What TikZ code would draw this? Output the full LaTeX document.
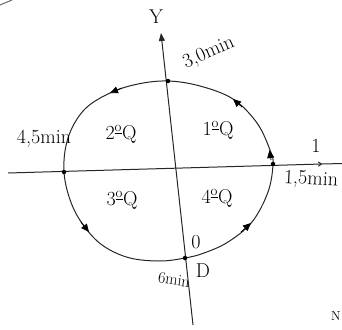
\documentclass[tikz,border=0pt]{standalone}
\usetikzlibrary{arrows.meta}
\newcommand\quadlbl[1]{#1\textsuperscript{\underline{o}}Q}
\begin{document}
\begin{tikzpicture}[x=1pt,y=-1pt,
  ln/.style={line width=1pt, black!85},
  dotsty/.style={circle,fill=black,inner sep=0pt,minimum size=4.5pt},
  lbl/.style={font=\fontsize{20}{22}\selectfont, inner sep=0pt},
  tipa/.style={-{Triangle[length=8pt,width=7pt]}, line width=0.8pt},
]
\useasboundingbox (0,0) rectangle (342,329);
% axes
\coordinate (ybot) at (193,325);
\coordinate (ytop) at (161,33);
\coordinate (xl) at (8,173);
\coordinate (xa) at (322,164);
\coordinate (xr) at (343,163.5);
\draw[ln,-{Triangle[length=8pt,width=6pt]}] (ybot) -- (ytop);
\draw[ln,-{To[length=4pt,width=5pt]}] (xl) -- (xa);
\draw[ln] (xa) -- (xr);
% curve
\draw[ln] plot[smooth cycle, tension=0.6] coordinates {
 (168,81) (200,86) (233,99) (257,123) (270,150) (273,164) (268,192)
 (252,222) (228,242) (204,253) (185,258) (160,261) (130,258) (105,247)
 (87,230) (72,205) (64,172) (68,138) (84,110) (110,93) (138,84)};
% dots
\node[dotsty] (top) at (168,81) {};
\node[dotsty] (right) at (273,164) {};
\node[dotsty] (left) at (64,172) {};
\node[dotsty] (bottom) at (185,258) {};
% arrowheads along curve
\coordinate (a1f) at (241,232); \coordinate (a1t) at (251,223);
\coordinate (a2f) at (271,160); \coordinate (a2t) at (269.5,150);
\coordinate (a3f) at (242,107); \coordinate (a3t) at (233,99);
\coordinate (a4f) at (122,88);  \coordinate (a4t) at (110,93);
\coordinate (a5f) at (81,222);  \coordinate (a5t) at (89,232);
\draw[tipa] (a1f) -- (a1t);
\draw[tipa] (a2f) -- (a2t);
\draw[tipa] (a3f) -- (a3t);
\draw[tipa] (a4f) -- (a4t);
\draw[tipa] (a5f) -- (a5t);
% labels
\node[lbl] (ylab) at (156,17) {Y};
\node[lbl] (xlab) at (316,146) {1};
\node[lbl, rotate=24] (t3) at (209,53) {3,0min};
\node[lbl] (t45) at (44,139) {4,5min};
\node[lbl, rotate=-3] (t15) at (311,180) {1,5min};
\node[lbl, rotate=-8, font=\fontsize{16}{18}\selectfont] (t6) at (174,280) {6min};
\node[lbl] (zero) at (196,242) {0};
\node[lbl] (dlab) at (203,271) {D};
\node[lbl] (q1) at (218,130) {\quadlbl{1}};
\node[lbl] (q2) at (121,134) {\quadlbl{2}};
\node[lbl] (q3) at (122,200) {\quadlbl{3}};
\node[lbl] (q4) at (217,198) {\quadlbl{4}};
\node[lbl, font=\fontsize{13}{15}\selectfont] (nlab) at (336,316) {N};
% stray stroke top-left
\coordinate (s1) at (0,5); \coordinate (s2) at (12,0);
\draw[ln, black!60] (s1) -- (s2);
\end{tikzpicture}
\end{document}
